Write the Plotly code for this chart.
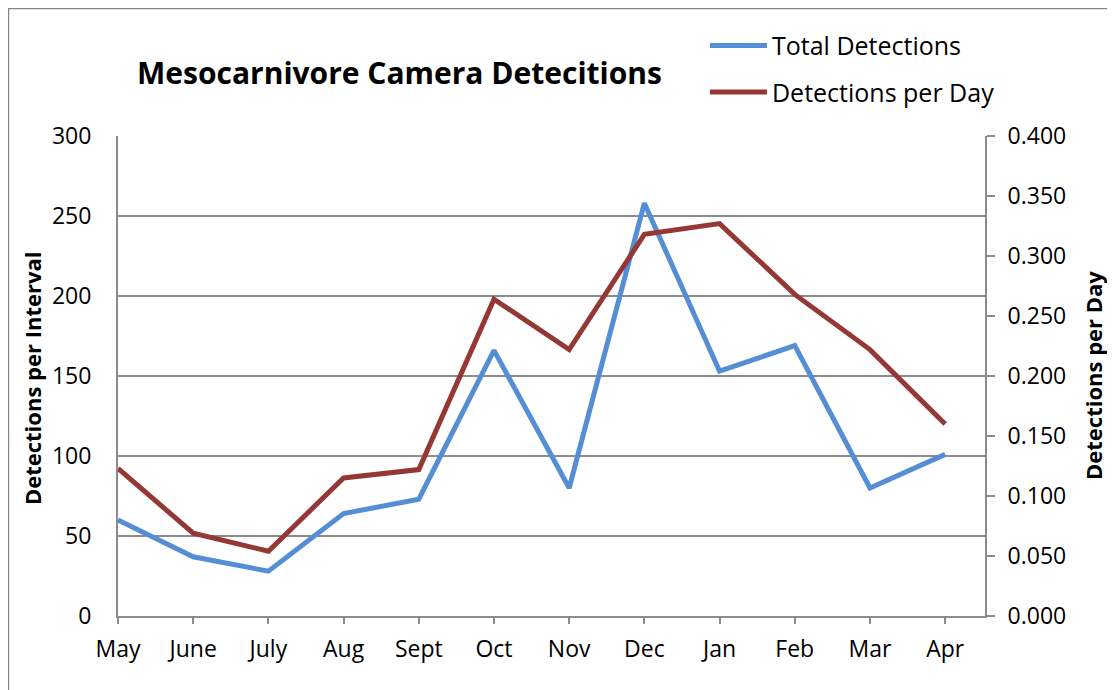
import plotly.graph_objects as go

months = ["May", "June", "July", "Aug", "Sept", "Oct", "Nov", "Dec", "Jan", "Feb", "Mar", "Apr"]
total_detections = [60, 37, 28, 64, 73, 166, 80, 258, 153, 169, 80, 101]
detections_per_day = [0.123, 0.069, 0.054, 0.115, 0.122, 0.264, 0.222, 0.318, 0.327, 0.268, 0.222, 0.160]

left_ticks = [0, 50, 100, 150, 200, 250, 300]
right_ticks = [0, 0.05, 0.1, 0.15, 0.2, 0.25, 0.3, 0.35, 0.4]

FONT = "Open Sans"
GRID = "#8c8c8c"

fig = go.Figure()
fig.add_trace(go.Scatter(
    x=months, y=total_detections, mode="lines", name="Total Detections",
    line=dict(color="#558ED5", width=5), legendgroup="a"
))
fig.add_trace(go.Scatter(
    x=months, y=detections_per_day, mode="lines", name="Detections per Day",
    line=dict(color="#953735", width=5), yaxis="y2", legendgroup="b"
))

# page body has an 8px margin, so the figure is 8px smaller and shifted
fig.update_layout(
    width=1107, height=682,
    margin=dict(l=110, r=130, t=128, b=74),
    paper_bgcolor="white", plot_bgcolor="white",
    font=dict(family=FONT, size=23, color="black"),
    showlegend=True,
    legend=dict(x=0.677, y=1.236, xanchor="left", yanchor="top",
                font=dict(size=25), tracegroupgap=11, itemwidth=57,
                bgcolor="rgba(0,0,0,0)"),
    xaxis=dict(type="category", range=[0, 11.53], showgrid=False,
               showline=True, linecolor=GRID, linewidth=2,
               ticks="outside", ticklen=6, tickcolor=GRID, tickwidth=2,
               ticklabelstandoff=5),
    yaxis=dict(range=[0, 300], tickvals=left_ticks, showgrid=True,
               gridcolor=GRID, gridwidth=2, showline=True, linecolor=GRID,
               linewidth=2, zeroline=False, ticks="", ticklabelstandoff=20),
    yaxis2=dict(range=[0, 0.4], tickvals=right_ticks, tickformat=".3f",
                overlaying="y", side="right", showgrid=False, zeroline=False,
                showline=True, linecolor=GRID, linewidth=2,
                ticks="outside", ticklen=8, tickcolor=GRID, tickwidth=2,
                ticklabelstandoff=8),
    shapes=[dict(type="rect", xref="paper", yref="paper",
                 x0=-0.1263, x1=1.3, y0=-0.3, y1=1.2656,
                 line=dict(color="#868686", width=1.5), layer="below")],
    annotations=[
        dict(text="<b>Mesocarnivore Camera Detecitions</b>", xref="paper", yref="paper",
             x=0.325, y=1.133, xanchor="center", yanchor="middle",
             showarrow=False, font=dict(size=30)),
        dict(text="<b>Detections per Interval</b>", xref="paper", yref="paper",
             x=-0.099, y=0.496, xanchor="center", yanchor="middle",
             textangle=-90, showarrow=False, font=dict(size=22)),
        dict(text="<b>Detections per Day</b>", xref="paper", yref="paper",
             x=1.1245, y=0.502, xanchor="center", yanchor="middle",
             textangle=-90, showarrow=False, font=dict(size=22)),
    ],
)

fig.write_html("out.html")
